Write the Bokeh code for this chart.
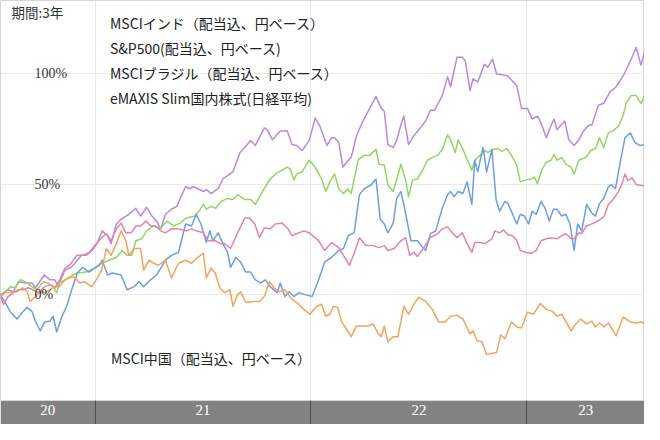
import pandas as pd
from bokeh.plotting import figure
from bokeh.models import FixedTicker, Legend, LegendItem, Label, Range1d, DatetimeTickFormatter
from bokeh.core.properties import value
from bokeh.embed import file_html
from bokeh.resources import INLINE

# ---------------- data ----------------
START = pd.Timestamp("2020-07-25")
END = pd.Timestamp("2023-07-19")
YEAR_BOUNDS = ["2021-01-01", "2022-01-01", "2023-01-01"]
Y_TICKS = [0, 50, 100]
Y_TICK_LABELS = ["0%", "50%", "100%"]
PERIOD_TEXT = "期間:3年"

names = [
    "MSCIインド（配当込、円ベース）",
    "S&P500(配当込、円ベース)",
    "MSCIブラジル（配当込、円ベース）",
    "eMAXIS Slim国内株式(日経平均)",
    "MSCI中国（配当込、円ベース）",
]
colors = ["#b58ae3", "#93d563", "#6d9ee3", "#e583a8", "#f2a35e"]

# days since START, cumulative return in %
india_days = [0, 13, 22, 30, 42, 53, 59, 74, 84, 92, 97, 109, 120, 137, 145, 155, 164, 172, 181, 187,
              196, 204, 217, 229, 237, 247, 256, 264, 271, 279, 289, 298, 313, 321, 326, 334, 343, 348,
              356, 368, 376, 393, 405, 413, 423, 431, 446, 451, 460, 473, 485, 493, 501, 510, 522, 532,
              540, 552, 560, 565, 572, 579, 588, 593, 602, 613, 627, 635, 644, 649, 655, 664, 670, 677,
              682, 690, 699, 710, 719, 727, 734, 747, 756, 761, 772, 781, 786, 794, 799, 807, 811, 818,
              824, 832, 839, 848, 858, 873, 881, 891, 899, 908, 914, 923, 928, 936, 941, 954, 961, 970,
              978, 986, 995, 1000, 1011, 1020, 1031, 1041, 1053, 1065, 1075, 1083, 1090]
india_vals = [0.0, 2.2, 1.3, 5.8, 5.3, 5.3, 3.1, 8.9, 6.7, 6.7, 3.6, 11.1, 12.4, 17.8, 17.8, 20.0, 23.6,
              28.9, 26.7, 23.1, 32.0, 34.2, 36.4, 39.1, 35.6, 39.6, 35.6, 33.3, 29.8, 36.4, 38.7, 40.0,
              48.9, 48.0, 48.9, 48.0, 46.7, 47.6, 45.8, 48.0, 52.4, 55.6, 64.4, 66.7, 69.8, 67.6, 75.6,
              74.7, 70.2, 74.2, 74.2, 68.0, 67.6, 65.3, 69.8, 80.0, 76.4, 67.6, 71.1, 71.1, 68.9, 57.8,
              60.9, 62.2, 72.0, 78.7, 85.8, 89.8, 84.4, 83.1, 68.0, 66.7, 69.8, 76.9, 80.9, 68.0, 72.0,
              75.6, 78.7, 83.6, 83.6, 90.2, 98.7, 94.2, 107.6, 107.6, 105.8, 92.4, 97.8, 96.4, 99.1,
              104.4, 103.1, 106.7, 100.0, 99.6, 99.1, 94.7, 84.4, 84.4, 79.6, 80.9, 77.8, 71.1, 74.7,
              79.6, 74.7, 78.7, 70.2, 67.6, 70.2, 74.2, 76.9, 76.9, 85.8, 86.7, 92.0, 94.2, 99.1, 105.8,
              112.0, 104.0, 111.1]

sp_days = [0, 8, 17, 25, 33, 42, 53, 62, 72, 80, 89, 95, 100, 109, 117, 129, 145, 159, 171, 184, 196,
           206, 214, 222, 229, 239, 247, 259, 271, 281, 293, 304, 314, 329, 338, 343, 348, 356, 364, 373,
           384, 393, 401, 413, 423, 431, 443, 455, 465, 476, 485, 490, 496, 501, 510, 522, 532, 543, 550,
           557, 565, 572, 580, 587, 593, 605, 615, 624, 635, 640, 649, 655, 664, 672, 677, 685, 690, 697,
           705, 714, 722, 730, 739, 747, 756, 761, 769, 774, 782, 789, 797, 802, 811, 819, 824, 832, 841,
           848, 856, 866, 873, 879, 889, 898, 903, 908, 916, 923, 931, 936, 941, 949, 956, 965, 970, 978,
           990, 998, 1006, 1013, 1020, 1028, 1036, 1045, 1053, 1058, 1066, 1075, 1083, 1090]
sp_vals = [-0.9, 1.3, 3.6, 3.1, 6.7, 5.8, 3.6, 2.2, 5.8, 5.3, 3.6, 0.9, 5.3, 6.7, 8.0, 9.8, 10.2, 12.0,
           14.2, 15.6, 16.9, 20.0, 17.8, 17.8, 24.4, 25.3, 28.9, 31.1, 30.2, 33.3, 31.1, 32.4, 34.7, 35.6,
           38.7, 40.9, 38.7, 40.0, 39.1, 42.2, 43.6, 43.1, 45.3, 43.1, 43.1, 40.9, 46.7, 52.0, 54.7, 56.4,
           57.8, 56.9, 52.0, 54.7, 55.6, 60.9, 57.8, 52.4, 46.7, 51.1, 54.7, 48.0, 45.8, 48.0, 45.8, 61.3,
           63.1, 63.1, 65.8, 59.1, 58.7, 49.8, 46.7, 54.2, 59.1, 52.0, 44.4, 52.0, 52.4, 56.4, 60.9, 62.2,
           63.1, 65.8, 72.4, 70.2, 64.4, 70.2, 65.8, 61.3, 56.4, 60.9, 63.1, 65.3, 64.4, 65.8, 66.2, 64.9,
           66.2, 62.2, 58.7, 51.1, 52.0, 52.4, 53.3, 50.2, 56.9, 60.0, 60.9, 63.6, 60.9, 62.2, 59.1, 57.8,
           54.7, 60.9, 62.2, 65.3, 66.2, 71.1, 66.7, 73.3, 74.2, 76.4, 81.3, 86.7, 90.2, 90.2, 86.7, 90.2]

brazil_days = [0, 8, 17, 28, 37, 45, 53, 59, 67, 75, 84, 89, 95, 104, 112, 122, 130, 139, 150, 159, 167,
               172, 181, 189, 204, 214, 226, 234, 242, 254, 264, 272, 279, 289, 301, 313, 323, 331, 339,
               348, 354, 359, 368, 376, 384, 389, 398, 406, 415, 423, 431, 440, 448, 456, 468, 473, 481,
               488, 496, 505, 515, 527, 538, 548, 560, 572, 580, 588, 598, 607, 615, 627, 635, 642, 649,
               655, 664, 670, 677, 682, 694, 705, 714, 719, 727, 736, 747, 756, 761, 767, 774, 782, 789,
               797, 802, 807, 816, 822, 831, 838, 844, 853, 858, 866, 873, 879, 886, 893, 899, 906, 914,
               921, 928, 935, 941, 949, 956, 963, 970, 976, 983, 991, 1000, 1006, 1013, 1020, 1028, 1033,
               1040, 1048, 1056, 1065, 1073, 1081, 1090]
brazil_vals = [0.0, -3.6, -8.0, -11.1, -8.0, -5.8, -7.6, -12.0, -16.4, -12.4, -12.0, -9.8, -16.9, -9.8,
               -5.3, 3.6, 9.8, 12.4, 10.2, 12.0, 13.3, 15.6, 8.9, 9.8, 8.9, 2.2, 3.6, 5.8, 3.6, 6.7, 8.9,
               12.4, 15.6, 17.8, 19.1, 32.0, 31.1, 36.4, 32.0, 23.6, 28.9, 24.4, 28.0, 23.1, 19.1, 12.4,
               16.9, 14.7, 10.2, 10.2, 6.7, 5.3, 6.7, 3.6, 0.9, 5.3, -0.9, 1.3, -0.9, 0.9, 0.0, -0.9, 6.7,
               14.7, 16.9, 20.0, 20.9, 26.7, 28.0, 45.3, 48.0, 49.8, 52.4, 34.2, 32.0, 28.0, 32.4, 43.6,
               46.7, 40.9, 24.4, 24.4, 21.3, 20.0, 27.6, 28.9, 39.1, 45.3, 46.7, 44.4, 46.7, 45.8, 51.1,
               40.9, 60.9, 55.6, 66.7, 55.6, 65.8, 43.1, 37.8, 42.2, 41.3, 36.4, 32.0, 36.4, 35.6, 32.0,
               37.8, 36.4, 42.2, 39.1, 33.3, 38.7, 38.7, 35.6, 36.4, 32.0, 20.0, 32.0, 28.9, 40.9, 36.9,
               35.6, 41.3, 43.6, 48.9, 49.8, 48.0, 60.0, 71.1, 73.3, 68.9, 67.6, 68.0]

nikkei_days = [0, 5, 13, 22, 30, 38, 47, 55, 64, 75, 84, 92, 100, 109, 117, 129, 139, 150, 162, 171, 179,
               187, 196, 204, 212, 221, 229, 237, 246, 254, 262, 271, 279, 289, 301, 313, 323, 331, 343,
               351, 363, 371, 379, 389, 401, 413, 421, 430, 438, 446, 456, 465, 476, 485, 493, 501, 513,
               522, 532, 538, 548, 560, 572, 582, 590, 598, 607, 618, 630, 640, 649, 655, 666, 677, 685,
               692, 699, 705, 715, 727, 739, 747, 756, 764, 772, 781, 789, 797, 802, 811, 819, 831, 836,
               844, 851, 858, 866, 873, 879, 889, 898, 906, 914, 923, 931, 941, 949, 956, 965, 970, 978,
               983, 991, 1003, 1015, 1021, 1028, 1036, 1045, 1051, 1056, 1061, 1068, 1075, 1090]
nikkei_vals = [-0.9, -4.4, -0.9, 0.9, 2.2, 2.2, 3.1, 2.2, 0.9, 3.6, 4.4, 3.1, 6.7, 12.0, 13.3, 17.8, 17.8,
               19.1, 23.1, 25.8, 27.6, 24.4, 29.8, 32.4, 28.0, 28.0, 31.1, 31.1, 33.3, 31.1, 31.1, 28.9,
               28.0, 29.8, 29.8, 28.9, 29.8, 28.9, 28.0, 24.4, 24.4, 23.1, 23.1, 20.9, 28.0, 34.7, 34.7,
               32.0, 25.8, 30.2, 29.8, 32.0, 32.4, 30.2, 26.7, 27.6, 28.9, 28.0, 25.8, 24.4, 20.0, 23.6,
               21.3, 16.9, 13.3, 18.7, 25.8, 22.2, 22.2, 21.3, 22.2, 20.0, 20.9, 24.4, 25.8, 17.8, 19.1,
               17.3, 20.9, 25.8, 27.6, 29.8, 30.7, 28.0, 25.8, 28.0, 23.1, 19.1, 23.6, 23.6, 23.1, 25.3,
               28.9, 28.0, 29.3, 27.1, 26.7, 24.4, 20.0, 19.1, 18.7, 20.0, 24.4, 25.3, 25.8, 25.3, 26.7,
               27.6, 25.3, 25.3, 28.0, 27.6, 31.1, 32.4, 34.2, 35.6, 40.9, 43.1, 46.7, 50.2, 54.7, 51.6,
               52.9, 49.8, 49.3]

china_days = [0, 8, 20, 28, 37, 45, 50, 59, 67, 75, 84, 92, 100, 109, 117, 125, 134, 142, 154, 162, 171,
              179, 187, 196, 204, 212, 217, 226, 237, 242, 251, 259, 267, 279, 289, 301, 313, 323, 331,
              343, 348, 356, 363, 371, 379, 388, 393, 401, 406, 415, 426, 438, 446, 455, 463, 471, 481,
              493, 501, 513, 523, 535, 543, 550, 557, 563, 570, 577, 585, 593, 602, 610, 622, 630, 639,
              644, 649, 655, 664, 672, 682, 690, 699, 707, 719, 730, 741, 752, 761, 772, 782, 794, 799,
              806, 814, 822, 839, 846, 853, 864, 873, 881, 891, 901, 913, 923, 933, 941, 949, 965, 973,
              981, 991, 1000, 1006, 1013, 1020, 1028, 1041, 1053, 1065, 1075, 1083, 1090]
china_vals = [-0.9, 0.9, 0.9, 1.3, 3.1, 1.3, -3.1, -0.9, 1.3, 0.9, 2.2, 3.6, 3.6, 6.7, 7.6, 8.0, 5.3, 5.8,
              3.6, 6.7, 11.1, 20.9, 17.8, 23.1, 28.9, 24.4, 17.8, 20.9, 20.9, 11.1, 15.6, 14.2, 13.3, 15.6,
              7.6, 14.2, 15.6, 14.2, 16.4, 18.7, 7.6, 12.0, 9.8, 3.1, 0.9, 2.2, -5.3, 0.0, 1.3, -3.6, -3.1,
              -3.1, -0.9, 5.8, 3.1, 1.3, 2.2, -2.2, -3.6, -6.7, -8.9, -5.3, -4.4, -9.8, -8.9, -5.3, -5.8,
              -12.4, -15.6, -19.1, -14.2, -14.2, -14.2, -13.3, -17.8, -19.1, -14.2, -21.3, -19.1, -19.1,
              -5.3, -8.9, -4.4, -1.3, -3.1, -6.7, -12.4, -12.4, -9.8, -9.3, -11.1, -17.8, -16.4, -20.9,
              -21.3, -27.1, -26.2, -18.2, -20.0, -12.4, -14.7, -15.1, -8.0, -8.9, -4.0, -6.7, -7.6, -9.8,
              -8.9, -16.4, -13.3, -11.1, -13.3, -12.0, -14.7, -12.9, -14.7, -12.9, -18.7, -10.2, -12.4,
              -12.9, -12.4, -13.3]

series = [
    (india_days, india_vals),
    (sp_days, sp_vals),
    (brazil_days, brazil_vals),
    (nikkei_days, nikkei_vals),
    (china_days, china_vals),
]

# ---------------- figure ----------------
W, H, BAND = 644, 424, 24
FRAME_H = H - BAND
SERIF = "'Liberation Serif', serif"
JP = "'Noto Sans CJK JP', sans-serif"

p = figure(width=W, height=H, x_axis_type="datetime", y_axis_location=None, title=None,
           x_range=Range1d(START, END), y_range=Range1d(-48, 133.3),
           output_backend="svg", toolbar_location=None,
           min_border_left=0, min_border_right=0, min_border_top=0, min_border_bottom=BAND)
p.background_fill_color = "white"
p.border_fill_color = "#828282"
p.outline_line_color = "#d6d6d6"

bounds = [pd.Timestamp(b) for b in YEAR_BOUNDS]
edges = [START] + bounds + [END]
centers = [a + (b - a) / 2 for a, b in zip(edges[:-1], edges[1:])]
to_ms = lambda t: t.value / 1e6

p.xgrid.ticker = FixedTicker(ticks=[to_ms(b) for b in bounds])
p.xgrid.grid_line_color = "#e9e9e9"
p.ygrid.ticker = FixedTicker(ticks=Y_TICKS)
p.ygrid.grid_line_color = "#e9e9e9"

ax = p.xaxis[0]
ax.ticker = FixedTicker(ticks=[to_ms(c) for c in centers], minor_ticks=[to_ms(b) for b in bounds])
ax.formatter = DatetimeTickFormatter(years="%y", months="%y", days="%y", hours="%y", hourmin="%y",
                                     minutes="%y", minsec="%y", seconds="%y", milliseconds="%y",
                                     microseconds="%y")
ax.axis_line_color = None
ax.major_tick_line_color = None
ax.minor_tick_line_color = "#4f4f4f"
ax.minor_tick_in = 0
ax.minor_tick_out = BAND
ax.major_label_standoff = -20
ax.major_label_text_color = "white"
ax.major_label_text_font = SERIF
ax.major_label_text_font_size = "15px"

for (d, v), c in zip(series, colors):
    x = START + pd.to_timedelta(d, unit="D")
    p.line(x=x, y=v, line_color=c, line_width=1.5, line_join="round")

# y tick labels inside the plot
p.text(x=[START] * len(Y_TICKS), y=Y_TICKS, text=Y_TICK_LABELS, x_offset=34,
       text_align="left", text_baseline="middle", text_font=value(SERIF),
       text_font_size="14px", text_color="#333333")

p.add_layout(Label(x=11, y=FRAME_H - 11, x_units="screen", y_units="screen", text=PERIOD_TEXT,
                   text_baseline="middle", text_font=JP, text_font_size="13.5px",
                   text_color="#333333"))

# legends with vertical colour bars
items = []
for name, c in zip(names, colors):
    r = p.quad(left=[], right=[], top=[], bottom=[], fill_color=c, line_color=None)
    items.append(LegendItem(label=name, renderers=[r]))

def make_legend(its, loc):
    return Legend(items=its, location=loc, orientation="vertical", glyph_width=3, glyph_height=25,
                  spacing=0, padding=0, margin=0, label_standoff=7, border_line_color=None,
                  background_fill_alpha=0, label_text_font=JP,
                  label_text_font_size="14px", label_text_color="#222222", label_height=25)

p.add_layout(make_legend(items[:4], (100, FRAME_H - 110)))
p.add_layout(make_legend(items[4:], (101, FRAME_H - 370)))

open("out.html", "w").write(file_html(p, INLINE))
